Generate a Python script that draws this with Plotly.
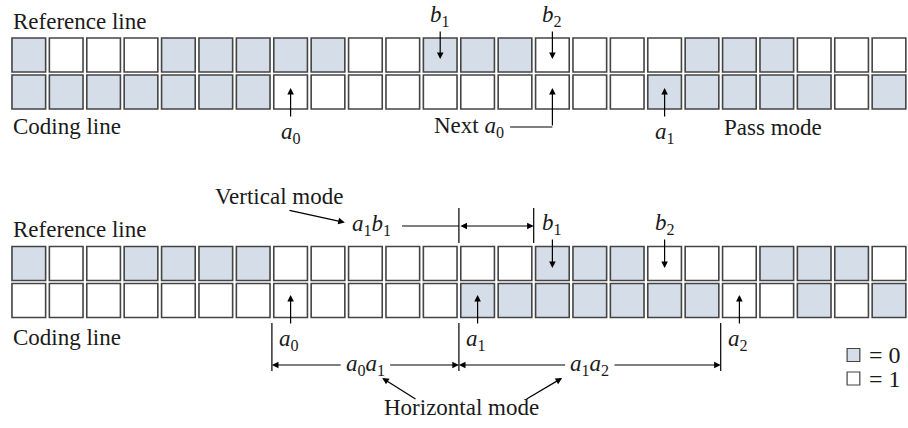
import plotly.graph_objects as go

# ---- data: pixel values of the two line pairs (0 = shaded, 1 = white) ----
cells = list(range(24))
ref_pass = [0, 1, 1, 1, 0, 0, 0, 0, 0, 1, 1, 0, 0, 0, 1, 1, 1, 1, 0, 0, 0, 1, 1, 1]
cod_pass = [0, 0, 0, 0, 0, 0, 0, 1, 1, 1, 1, 1, 1, 1, 1, 1, 1, 0, 0, 0, 0, 0, 1, 0]
ref_horz = [0, 1, 1, 0, 0, 0, 0, 1, 1, 1, 1, 1, 1, 1, 0, 0, 0, 1, 1, 1, 0, 0, 0, 1]
cod_horz = [1, 1, 1, 1, 1, 1, 1, 1, 1, 1, 1, 1, 0, 0, 0, 0, 0, 0, 0, 1, 1, 0, 1, 0]

# changing-element positions (cell indices)
pass_marks = {"a0": 7, "b1": 11, "b2": 14, "next_a0": 14, "a1": 17}
horz_marks = {"a0": 7, "a1": 12, "a2": 19, "b1": 14, "b2": 17}

# ---- styling ----
SHADE = "#d4dde8"
EDGE = "#444444"
FONT = "Liberation Serif"
FS = 23
HALF_W = 0.45      # half cell width (cell units)
HALF_H = 17        # half cell height (vertical units)
ROW_Y = {"ref_pass": 55, "cod_pass": 92, "ref_horz": 263.5, "cod_horz": 300.5}

fig = go.Figure()
fig.add_trace(go.Scatter(x=[0], y=[0], mode="markers", marker=dict(opacity=0), hoverinfo="skip", showlegend=False))

shapes = []
def row(values, yc):
    for i, v in zip(cells, values):
        shapes.append(dict(type="rect", xref="x", yref="y",
                           x0=i - HALF_W, x1=i + HALF_W, y0=yc - HALF_H, y1=yc + HALF_H,
                           fillcolor=SHADE if v == 0 else "white",
                           line=dict(color=EDGE, width=1.6), layer="above"))

row(ref_pass, ROW_Y["ref_pass"])
row(cod_pass, ROW_Y["cod_pass"])
row(ref_horz, ROW_Y["ref_horz"])
row(cod_horz, ROW_Y["cod_horz"])

def line(x0, y0, x1, y1, w=1.2):
    shapes.append(dict(type="line", xref="x", yref="y", x0=x0, y0=y0, x1=x1, y1=y1,
                       line=dict(color="black", width=w)))

annots = []
def text(x, y, s, xanchor="center", size=FS):
    annots.append(dict(x=x, y=y, xref="x", yref="y", text=s, showarrow=False,
                       xanchor=xanchor, yanchor="middle",
                       font=dict(family=FONT, size=size, color="#1a1a1a")))

def arrow(x, y, ax, ay, side="end"):
    annots.append(dict(x=x, y=y, ax=ax, ay=ay, xref="x", yref="y", axref="x", ayref="y",
                       text="", showarrow=True, arrowhead=2, arrowsize=1.1, arrowwidth=1.2,
                       arrowcolor="black", arrowside=side, standoff=0, startstandoff=0))

def sub(base, idx):
    return f"<i>{base}</i><sub>{idx}</sub>"

# ---------- pass mode (top) ----------
text(-0.47, 21, "Reference line", "left")
text(-0.47, 126, "Coding line", "left")
for k in ("b1", "b2"):
    c = pass_marks[k]
    text(c, 16, sub("b", k[1]))
    arrow(c, 59, c, 30)
c = pass_marks["a0"]
arrow(c, 88, c, 118)
text(c, 133, sub("a", 0))
c = pass_marks["a1"]
arrow(c, 88, c, 118)
text(c, 133, sub("a", 1))
c = pass_marks["next_a0"]
text(11.77, 127, "Next " + sub("a", 0))
line(12.87, 127, c, 127)
arrow(c, 88, c, 127)
text(19.91, 127, "Pass mode")

# ---------- vertical / horizontal mode (bottom) ----------
text(-0.47, 229, "Reference line", "left")
text(-0.47, 337, "Coding line", "left")
text(6.69, 196, "Vertical mode")
arrow(8.45, 222.5, 6.93, 210)
text(9.16, 225, sub("a", 1) + sub("b", 1))
a1 = horz_marks["a1"]
b1 = horz_marks["b1"]
line(9.98, 226, a1 - 0.5, 226)
line(a1 - 0.5, 208, a1 - 0.5, 243)
line(b1 - 0.5, 208, b1 - 0.5, 243)
arrow(b1 - 0.5, 226, a1 - 0.5, 226, side="end+start")
for k in ("b1", "b2"):
    c = horz_marks[k]
    text(c, 224, sub("b", k[1]))
    arrow(c, 268, c, 238)

a0 = horz_marks["a0"]
a2 = horz_marks["a2"]
for k, c in (("0", a0), ("1", a1), ("2", a2)):
    arrow(c, 295, c, 325)
    text(c - 0.05, 340, sub("a", k))
for c in (a0, a1, a2):
    line(c - 0.5, 323, c - 0.5, 371)
# a0a1 and a1a2 spans
m01 = (a0 + a1 - 1) / 2
m12 = (a1 + a2 - 1) / 2
text(m01, 365, sub("a", 0) + sub("a", 1))
text(m12, 365, sub("a", 1) + sub("a", 2))
arrow(a0 - 0.5, 365, m01 - 0.62, 365)
arrow(a1 - 0.5, 365, m01 + 0.62, 365)
arrow(a1 - 0.5, 365, m12 - 0.62, 365)
arrow(a2 - 0.5, 365, m12 + 0.62, 365)
text(11.57, 407, "Horizontal mode")
arrow(9.45, 378, 10.38, 400)
arrow(14.26, 378, 13.27, 400)

# legend key
for yc, fill, lab in ((355, SHADE, "= 0"), (378.5, "white", "= 1")):
    shapes.append(dict(type="rect", xref="x", yref="y", x0=21.88, x1=22.22,
                       y0=yc - 6.5, y1=yc + 6.5, fillcolor=fill,
                       line=dict(color=EDGE, width=1.2)))
    text(22.41, yc, lab, "left", size=24)

fig.update_layout(
    width=908, height=428, margin=dict(l=0, r=0, t=0, b=0),
    paper_bgcolor="white", plot_bgcolor="white",
    xaxis=dict(range=[(0 - 28.8) / 37.4, (908 - 28.8) / 37.4], visible=False, fixedrange=True),
    yaxis=dict(range=[428, 0], visible=False, fixedrange=True),
    shapes=shapes, annotations=annots, showlegend=False,
)
# remove the default page margin so the 908x428 figure fills the window
fig.write_html("out.html", config={"displayModeBar": False},
               post_script="document.body.style.margin='0';document.body.style.overflow='hidden';")
